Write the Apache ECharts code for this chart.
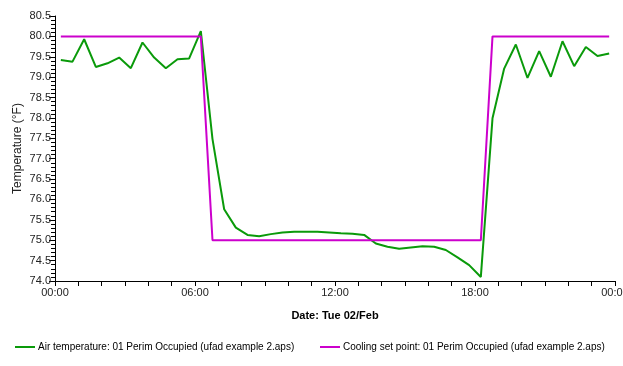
<!DOCTYPE html>
<html>
<head>
<meta charset="utf-8">
<script src="https://cdn.jsdelivr.net/npm/echarts@6/dist/echarts.min.js"></script>
<style>
html,body{margin:0;padding:0;background:#fff;}
#c{width:623px;height:366px;}
</style>
</head>
<body>
<div id="c"></div>
<script>
// time in hours (midpoints of half-hour steps)
var hours = [0.25,0.75,1.25,1.75,2.25,2.75,3.25,3.75,4.25,4.75,5.25,5.75,6.25,6.75,7.25,7.75,8.25,8.75,9.25,9.75,10.25,10.75,11.25,11.75,12.25,12.75,13.25,13.75,14.25,14.75,15.25,15.75,16.25,16.75,17.25,17.75,18.25,18.75,19.25,19.75,20.25,20.75,21.25,21.75,22.25,22.75,23.25,23.75];
var airTemp = [79.42,79.38,79.93,79.25,79.34,79.48,79.22,79.85,79.48,79.22,79.44,79.46,80.13,77.48,75.76,75.31,75.13,75.10,75.15,75.19,75.21,75.21,75.21,75.19,75.17,75.16,75.13,74.92,74.84,74.79,74.82,74.85,74.84,74.76,74.58,74.39,74.10,77.99,79.21,79.80,78.98,79.64,79.01,79.88,79.27,79.74,79.52,79.58];
var coolingSP = [80,80,80,80,80,80,80,80,80,80,80,80,80,75,75,75,75,75,75,75,75,75,75,75,75,75,75,75,75,75,75,75,75,75,75,75,75,80,80,80,80,80,80,80,80,80,80,80];
var xTickLabels = ['00:00','06:00','12:00','18:00','00:00'];
var seriesNames = ['Air temperature: 01 Perim Occupied (ufad example 2.aps)','Cooling set point: 01 Perim Occupied (ufad example 2.aps)'];
var yAxisTitle = 'Temperature (\u00B0F)';
var xAxisTitle = 'Date: Tue 02/Feb';

function pairs(xs, ys){ return xs.map(function(x,i){ return [x, ys[i]]; }); }

var chart = echarts.init(document.getElementById('c'), null, {renderer:'canvas'});
var fontFam = 'Liberation Sans, Arial, sans-serif';
var legendText = {color:'#000',fontSize:10,fontFamily:fontFam,padding:[0,0,0,-2]};
chart.setOption({
  animation:false,
  backgroundColor:'#fff',
  grid:{left:55,right:8,top:16,bottom:85,containLabel:false,outerBoundsMode:'none'},
  xAxis:{
    type:'value', min:0, max:24, interval:6,
    axisLine:{lineStyle:{color:'#000',width:1}},
    axisTick:{show:true,length:5,lineStyle:{color:'#000'}},
    minorTick:{show:true,splitNumber:6,length:5,lineStyle:{color:'#000'}},
    splitLine:{show:false},
    axisLabel:{color:'#222',fontSize:11,fontFamily:fontFam,margin:6,
      formatter:function(v){ return xTickLabels[Math.round(v/6)]; }},
    name:xAxisTitle, nameLocation:'middle', nameGap:29, nameMoveOverlap:false,
    nameTextStyle:{color:'#000',fontSize:11,fontWeight:'bold',fontFamily:fontFam}
  },
  yAxis:{
    type:'value', min:74, max:80.5, interval:0.5,
    axisLine:{show:true,lineStyle:{color:'#000',width:1}},
    axisTick:{show:true,length:6,lineStyle:{color:'#000'}},
    minorTick:{show:true,splitNumber:5,length:4,lineStyle:{color:'#000'}},
    splitLine:{show:false},
    axisLabel:{color:'#222',fontSize:11,fontFamily:fontFam,margin:4,
      formatter:function(v){ return v.toFixed(1); }},
    name:yAxisTitle, nameLocation:'middle', nameGap:31, nameRotate:90, nameMoveOverlap:false,
    nameTextStyle:{color:'#222',fontSize:12,fontFamily:fontFam}
  },
  legend:[
    {top:342, left:15, itemWidth:20, itemHeight:2, icon:'rect', padding:0,
     textStyle:legendText, data:[seriesNames[0]]},
    {top:342, left:320, itemWidth:20, itemHeight:2, icon:'rect', padding:0,
     textStyle:legendText, data:[seriesNames[1]]}
  ],
  series:[
    {name:seriesNames[0], type:'line', data:pairs(hours, airTemp), showSymbol:false,
     lineStyle:{color:'#0a9a0a',width:2}, itemStyle:{color:'#0a9a0a'}},
    {name:seriesNames[1], type:'line', data:pairs(hours, coolingSP), showSymbol:false,
     lineStyle:{color:'#cc00cc',width:2}, itemStyle:{color:'#cc00cc'}}
  ]
});
</script>
</body>
</html>
